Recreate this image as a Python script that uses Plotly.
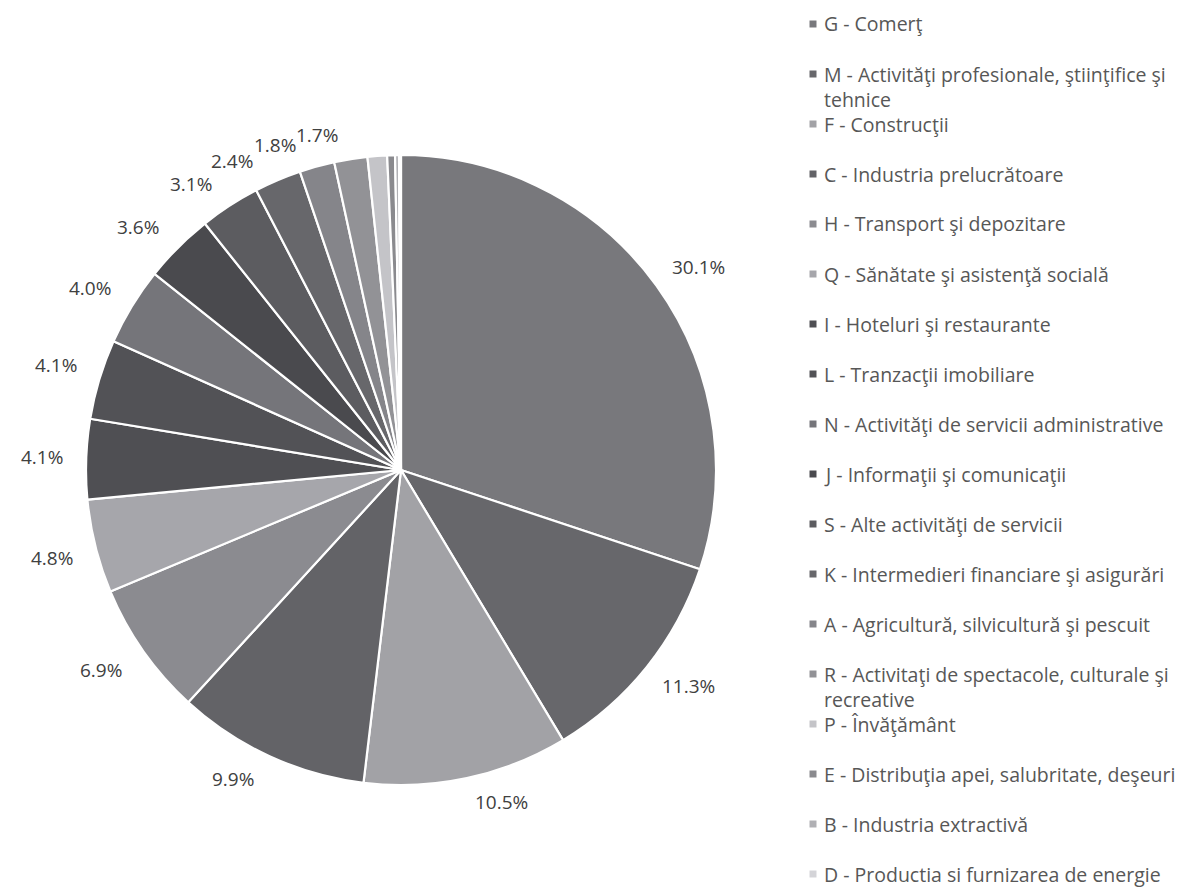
import math
import textwrap
import plotly.graph_objects as go

# Sectoare de activitate (CAEN) și ponderea lor în total (%)
sectors = [
    "G - Comerţ",
    "M - Activităţi profesionale, ştiinţifice şi tehnice",
    "F - Construcţii",
    "C - Industria prelucrătoare",
    "H - Transport şi depozitare",
    "Q - Sănătate şi asistenţă socială",
    "I - Hoteluri şi restaurante",
    "L - Tranzacţii imobiliare",
    "N - Activităţi de servicii administrative",
    "J - Informaţii şi comunicaţii",
    "S - Alte activităţi de servicii",
    "K - Intermedieri financiare şi asigurări",
    "A - Agricultură, silvicultură şi pescuit",
    "R - Activitaţi de spectacole, culturale şi recreative",
    "P - Învăţământ",
    "E - Distribuţia apei, salubritate, deşeuri",
    "B - Industria extractivă",
    "D - Productia si furnizarea de energie",
]
shares = [30.1, 11.3, 10.5, 9.9, 6.9, 4.8, 4.1, 4.1, 4.0, 3.6, 3.1, 2.4, 1.8, 1.7,
          1.0, 0.4, 0.2, 0.1]
labelled = [True] * 14 + [False] * 4
colors = [
    "#78787c", "#67676b", "#a2a2a6", "#636367", "#8b8b90", "#a6a6ab",
    "#4f4f53", "#525256", "#75757a", "#4a4a4e", "#5c5c60", "#67676b",
    "#85858a", "#929296", "#c4c4c8", "#8a8a8e", "#b0b0b4", "#d4d4d8",
]

W, H = 1190, 888
CX, CY, R = 401, 470, 315           # pie centre and radius, px
GAP = 12                            # rim-to-label-corner distance
OFF_X, OFF_Y = 32, 12               # label box half extents (with padding)
TXT_W, TXT_H = 42, 18               # label text extents used for overlap test
FONT = "'Open Sans', Lato, sans-serif"
LABEL_COLOR = "#404040"
LEGEND_COLOR = "#575757"

fig = go.Figure(go.Pie(
    labels=sectors,
    values=shares,
    sort=False,
    direction="clockwise",
    rotation=0,
    marker=dict(colors=colors, line=dict(color="white", width=2.2)),
    textinfo="none",
    hoverinfo="label+percent",
    showlegend=False,
    domain=dict(x=[(CX - R) / W, (CX + R) / W],
                y=[1 - (CY + R) / H, 1 - (CY - R) / H]),
))

# percentage labels placed outside each slice, box corner toward the rim
total = sum(shares)
mid = []
cum = 0.0
for v in shares:
    mid.append(360.0 * (cum + v / 2) / total)
    cum += v


def clamp(v, lo, hi):
    return max(lo, min(hi, v))


def label_centre(angle_deg):
    t = math.radians(angle_deg)
    s, c = math.sin(t), math.cos(t)
    px = CX + (R + GAP) * s
    py = CY - (R + GAP) * c
    return (px + OFF_X * math.copysign(1, s),
            py - OFF_Y * clamp(3 * c, -1, 1))


idx = [i for i, s in enumerate(labelled) if s]
angles = {i: mid[i] for i in idx}
# nudge crowded labels counter-clockwise until their texts stop touching
for a, b in zip(reversed(idx[:-1]), reversed(idx[1:])):
    for _ in range(400):
        xa, ya = label_centre(angles[a])
        xb, yb = label_centre(angles[b])
        if abs(xa - xb) >= TXT_W or abs(ya - yb) >= TXT_H:
            break
        angles[a] -= 0.1

annotations = []
for i in idx:
    px, py = label_centre(angles[i])
    annotations.append(dict(
        x=px / W, y=1 - py / H, xref="paper", yref="paper",
        text=f"{shares[i]:.1f}%", showarrow=False,
        xanchor="center", yanchor="middle",
        font=dict(family=FONT, size=19, color=LABEL_COLOR),
    ))

# legend column on the right
LEG_MARK_X, LEG_TEXT_X = 813, 822
LEG_TOP, LEG_STEP, LINE_H = 24, 50.0, 25
shapes = []
for k, (name, col) in enumerate(zip(sectors, colors)):
    y0 = LEG_TOP + k * LEG_STEP
    shapes.append(dict(
        type="rect", xref="paper", yref="paper",
        x0=(LEG_MARK_X - 3.5) / W, x1=(LEG_MARK_X + 3.5) / W,
        y0=1 - (y0 + 3.5) / H, y1=1 - (y0 - 3.5) / H,
        fillcolor=col, line=dict(width=0),
    ))
    for j, line in enumerate(textwrap.wrap(name, 43)):
        annotations.append(dict(
            x=LEG_TEXT_X / W, y=1 - (y0 + j * LINE_H) / H,
            xref="paper", yref="paper", text=line, showarrow=False,
            xanchor="left", yanchor="middle",
            font=dict(family=FONT, size=19.5, color=LEGEND_COLOR),
        ))

fig.update_layout(
    width=W, height=H,
    margin=dict(l=0, r=0, t=0, b=0),
    paper_bgcolor="white",
    plot_bgcolor="white",
    annotations=annotations,
    shapes=shapes,
)

fig.write_html("out.html")
